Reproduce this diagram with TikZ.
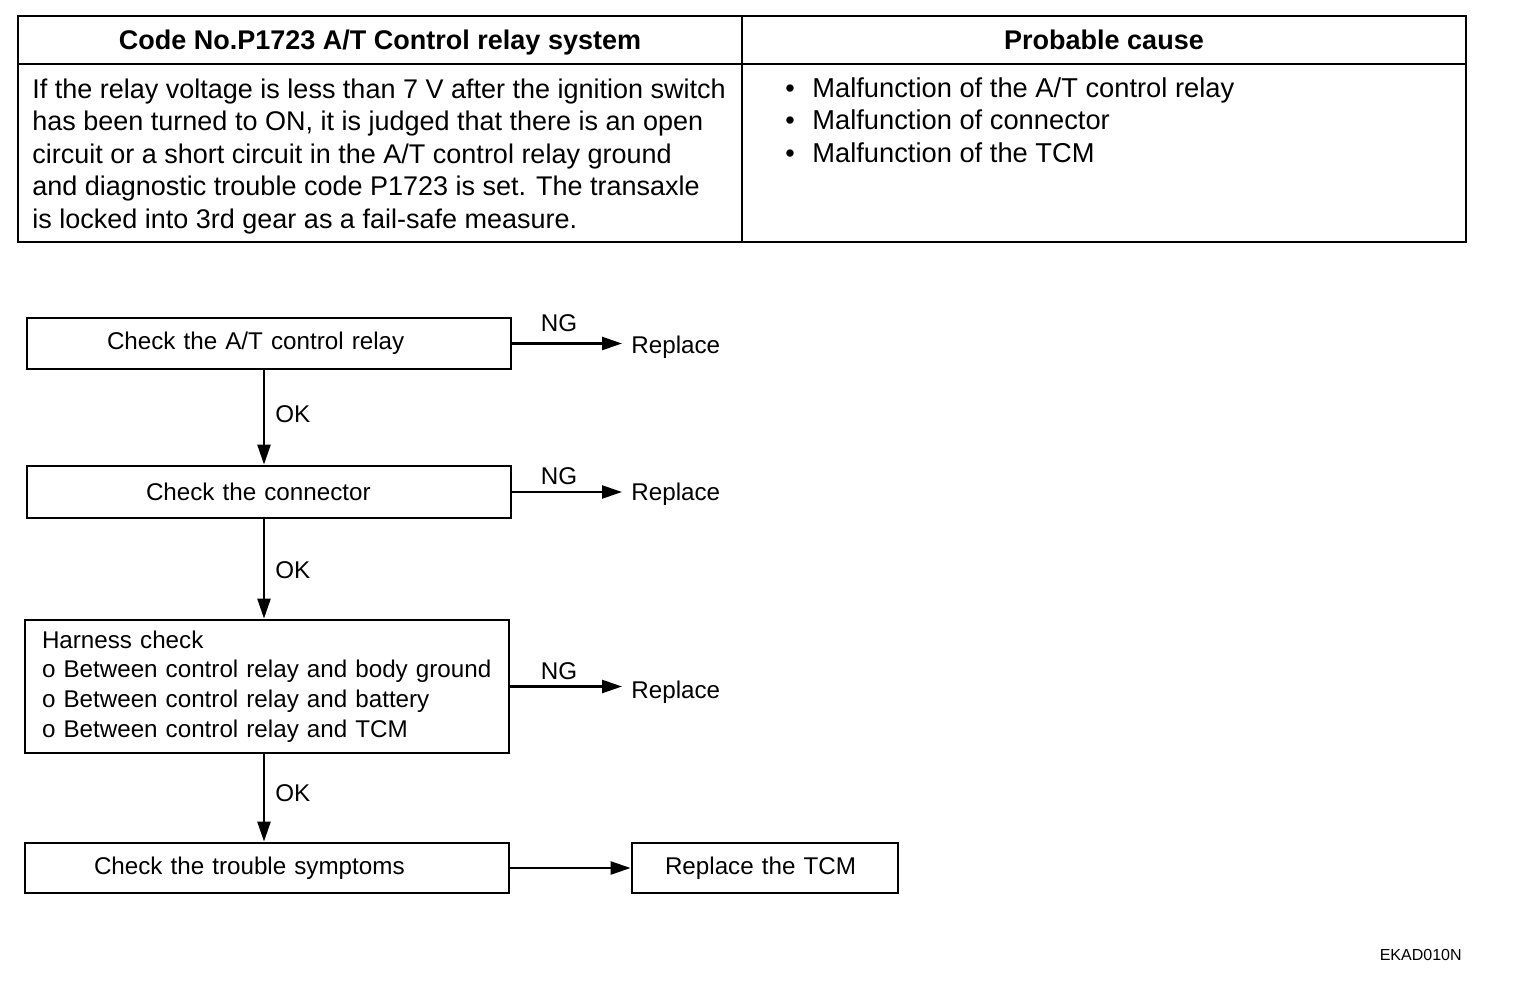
\documentclass[tikz,border=0pt]{standalone}
\usepackage{fontspec}
\setmainfont{Liberation Sans}
\usetikzlibrary{arrows.meta}
\begin{document}
\begin{tikzpicture}[x=0.5pt,y=-0.5pt,
  tline/.style={line width=1pt},
  tabtext/.style={font=\fontsize{13.5}{16}\selectfont, inner sep=0pt, anchor=base west},
  tabhead/.style={font=\fontsize{13.5}{16}\selectfont\bfseries, inner sep=0pt, anchor=base},
  fbox/.style={draw, line width=1.4pt, inner ysep=0pt, align=left,
    font=\fontsize{12.1}{14.85}\selectfont},
  flow/.style={line width=1.2pt, -{Triangle[length=10pt,width=6.5pt]}},
  lbl/.style={font=\fontsize{12.1}{14}\selectfont, inner sep=0pt, anchor=base west},
  codetext/.style={font=\fontsize{8}{9}\selectfont, inner sep=0pt, anchor=base east}]
\useasboundingbox (0,0) rectangle (1520,984);
\fill[white] (0,0) rectangle (1520,984);

% ---------- table ----------
\draw[tline] (18,16) rectangle (1466,242);
\draw[tline] (18,64) -- (1466,64);
\draw[tline] (742,16) -- (742,242);
\node[tabhead] (h1) at (380,50) {Code No.P1723 A/T Control relay system};
\node[tabhead] (h2) at (1104,50) {Probable cause};

\node[tabtext] (p1) at (32,99) {If the relay voltage is less than 7 V after the ignition switch};
\node[tabtext] (p2) at (32,131) {has been turned to ON, it is judged that there is an open};
\node[tabtext] (p3) at (32,164) {circuit or a short circuit in the A/T control relay ground};
\node[tabtext] (p4) at (32,196) {and diagnostic trouble code P1723 is set. The transaxle};
\node[tabtext] (p5) at (32,228) {is locked into 3rd gear as a fail-safe measure.};

\node[tabtext, anchor=base] (d1) at (790,98) {•};
\node[tabtext, anchor=base] (d2) at (790,130) {•};
\node[tabtext, anchor=base] (d3) at (790,163) {•};
\node[tabtext, font=\fontsize{13.65}{16}\selectfont] (c1) at (812,98) {Malfunction of the A/T control relay};
\node[tabtext, font=\fontsize{13.65}{16}\selectfont] (c2) at (812,130) {Malfunction of connector};
\node[tabtext, font=\fontsize{13.65}{16}\selectfont] (c3) at (812,163) {Malfunction of the TCM};

% ---------- flowchart ----------
\coordinate (col) at (264,0);

\node[fbox, minimum width=242pt, minimum height=25.5pt, inner xsep=40pt, text width=162pt]
  (b1) at (269,343.5) {Check the A/T control relay};
\node[fbox, minimum width=242pt, minimum height=26pt, inner xsep=59.5pt, text width=123pt]
  (b2) at (269,492) {Check the connector};
\node[fbox, minimum width=242pt, minimum height=66.5pt, inner xsep=8.5pt, text width=225pt]
  (b3) at (267,686.5) {Harness check\\o Between control relay and body ground\\o Between control relay and battery\\o Between control relay and TCM};
\node[fbox, minimum width=242pt, minimum height=25pt, inner xsep=34.5pt, text width=173pt]
  (b4) at (267,868) {Check the trouble symptoms};
\node[fbox, minimum width=133pt, minimum height=25pt, inner xsep=16.5pt, text width=100pt]
  (b5) at (765,868) {Replace the TCM};

% NG branches
\node[lbl] (rp1) at (631,353) {Replace};
\node[lbl] (rp2) at (631,500) {Replace};
\node[lbl] (rp3) at (631,698) {Replace};
\node[lbl, anchor=base] (ng1) at (559,331) {NG};
\node[lbl, anchor=base] (ng2) at (559,484) {NG};
\node[lbl, anchor=base] (ng3) at (559,679) {NG};

\draw[flow] (b1.east) -- ([xshift=-4.5pt]b1.east -| rp1.west);
\draw[flow] (b2.east) -- ([xshift=-4.5pt]b2.east -| rp2.west);
\draw[flow] (b3.east) -- ([xshift=-4.5pt]b3.east -| rp3.west);

% OK branches
\draw[flow] (b1.south -| col) -- (b2.north -| col);
\draw[flow] (b2.south -| col) -- (b3.north -| col);
\draw[flow] (b3.south -| col) -- (b4.north -| col);
\node[lbl] (ok1) at (275,422) {OK};
\node[lbl] (ok2) at (275,578) {OK};
\node[lbl] (ok3) at (275,801) {OK};

\draw[flow] (b4.east) -- (b5.west);

\node[codetext] (code) at (1462,960) {EKAD010N};
\end{tikzpicture}
\end{document}
